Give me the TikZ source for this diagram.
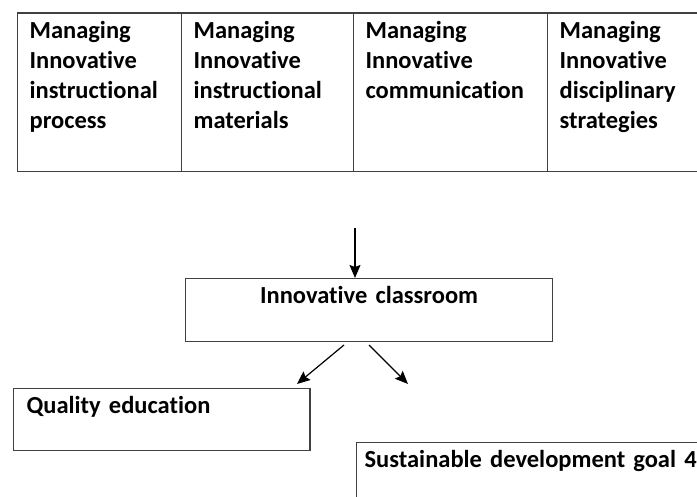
\documentclass[tikz,border=0pt]{standalone}
\usepackage{fontspec}
\setmainfont{Carlito}[Ligatures=NoCommon]
\usetikzlibrary{arrows.meta}
\newcommand{\boxfont}{\bfseries\fontsize{24.5}{30}\selectfont\spaceskip=5pt\relax}
\tikzstyle{arrow} = [line width=1.2pt,-{Stealth[length=13pt,width=11pt,inset=2pt]}]
\tikzstyle{cell} = [draw=black!75, line width=1.2pt, anchor=north west, inner xsep=12pt, inner ysep=0pt, align=left, font=\boxfont, text height=25.5pt, text depth=133pt]
\tikzstyle{box} = [draw=black!75, line width=1.2pt, anchor=north west, inner ysep=0pt, font=\boxfont, text height=25pt]

\begin{document}
\begin{tikzpicture}[x=1pt,y=-1pt]
        \useasboundingbox (0,0) rectangle (697,497);
        \clip (0,0) rectangle (697,497);

        %managing areas
        \node at (17,12.5) [cell, text width=140pt] (process) {Managing\\Innovative\\instructional\\process};
        \node at (181,12.5) [cell, text width=148pt] (materials) {Managing\\Innovative\\instructional\\materials};
        \node at (353,12.5) [cell, text width=170pt] (communication) {Managing\\Innovative\\communication};
        \node at (547,12.5) [cell, text width=170pt] (discipline) {Managing\\Innovative\\disciplinary\\strategies};

        %classroom
        \node at (185,278) [box, inner xsep=0pt, text width=367pt, align=center, text depth=38pt] (classroom) {Innovative classroom};
        \coordinate (feed) at (355,228);
        \draw [arrow] (feed) -- (feed |- classroom.north);

        %outcomes
        \node at (12.7,388) [box, inner xsep=13.3pt, text width=270pt, align=left, text depth=37pt] (quality) {Quality education};
        \node at (356,442) [box, inner xsep=8pt, text width=350pt, align=left, text depth=80pt] (sdg) {Sustainable development goal 4};

        \coordinate (splitL) at (344,345);
        \coordinate (splitR) at (369,345);
        \coordinate (toQuality) at (297,384);
        \coordinate (toSdg) at (408,384);
        \draw [arrow] (splitL) -- (toQuality);
        \draw [arrow] (splitR) -- (toSdg);

\end{tikzpicture}
\end{document}
